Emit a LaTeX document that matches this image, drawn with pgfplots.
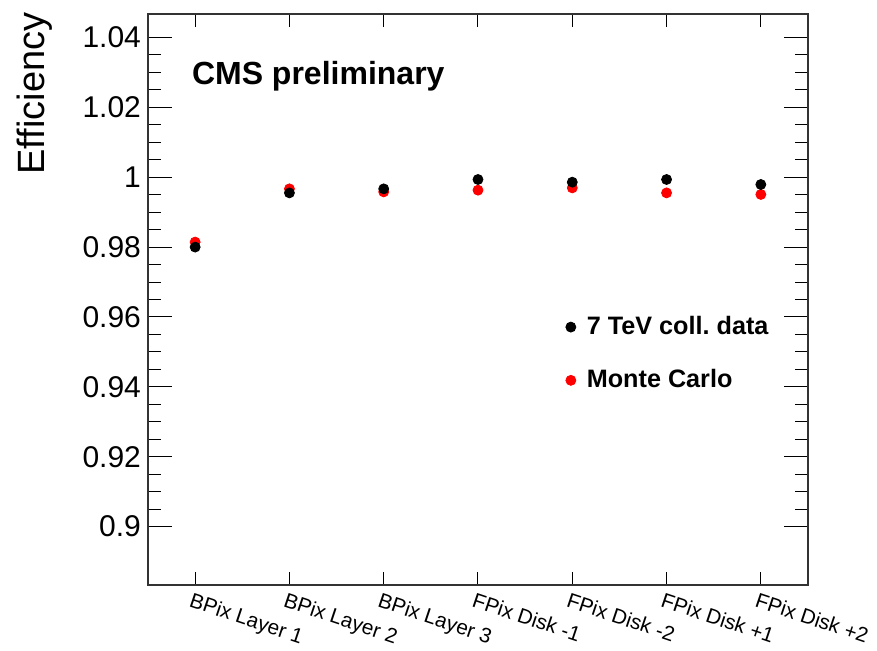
\documentclass[border=0pt]{standalone}
\usepackage{pgfplots}
\pgfplotsset{compat=1.18}
\usepackage{fontspec}
\setmainfont{Liberation Sans}

\begin{document}
\begin{tikzpicture}
\begin{axis}[
  width=330pt, height=285.5pt, scale only axis,
  xmin=-0.5, xmax=6.5, ymin=0.8833, ymax=1.0467,
  xtick={0,1,2,3,4,5,6},
  minor xtick={0,1,2,3,4,5,6},
  major x tick style={draw=none},
  xticklabels={BPix Layer 1, BPix Layer 2, BPix Layer 3, FPix Disk -1, FPix Disk -2, FPix Disk +1, FPix Disk +2},
  xticklabel style={font=\fontsize{10.4}{12}\selectfont, rotate=-18.5, anchor=north west, xshift=-1pt, yshift=-2.5pt, inner sep=1pt},
  ytick={0.9,0.92,...,1.041},
  minor y tick num=3,
  yticklabel style={font=\fontsize{15}{18}\selectfont},
  /pgf/number format/assume math mode=true,
  yticklabel={\pgfmathprintnumber[fixed,precision=2]{\tick}},
  major tick length=12pt, minor tick length=6.5pt,
  ytick style={black, line width=0.5pt},
  minor tick style={black, line width=0.5pt},
  axis line style={black!80, line width=0.6pt},
  ylabel={Efficiency},
  ylabel style={font=\fontsize{19}{22}\selectfont, at={(rel axis cs:-0.199,1.003)}, anchor=north east, inner sep=0pt},
  legend image code/.code={\path[draw=none,fill=none] (0pt,-3pt) rectangle (9pt,3pt); \draw[#1] plot coordinates {(3pt,0pt)};},
  legend style={draw=none, fill=none, at={(rel axis cs:0.631,0.478)}, anchor=north west,
    font=\bfseries\fontsize{12.6}{15}\selectfont, row sep=12pt, inner sep=0pt,
    cells={anchor=west}},
]
\addlegendimage{only marks, mark=*, black, mark size=2.5pt}
\addlegendentry{7 TeV coll.\ data}
\addlegendimage{only marks, mark=*, red, mark size=2.5pt}
\addlegendentry{Monte Carlo}

% Monte Carlo
\addplot[forget plot, only marks, mark=*, red, mark size=2.5pt] coordinates {
(0, 0.98143) (1, 0.99666) (2, 0.99580) (3, 0.99629) (4, 0.99694) (5, 0.99551) (6, 0.99506)
};
% 7 TeV collision data
\addplot[forget plot, only marks, mark=*, black, mark size=2.5pt] coordinates {
(0, 0.98000) (1, 0.99551) (2, 0.99666) (3, 0.99934) (4, 0.99857) (5, 0.99934) (6, 0.99791)
};

\node[anchor=base west, font=\bfseries\fontsize{16}{19}\selectfont] at (rel axis cs:0.056,0.876) {CMS preliminary};

\coordinate (sw) at (rel axis cs:0,0);
\coordinate (ne) at (rel axis cs:1,1);
\end{axis}
\path ([shift={(-74pt,-32pt)}]sw) rectangle ([shift={(34.5pt,7pt)}]ne);
\end{tikzpicture}
\end{document}
